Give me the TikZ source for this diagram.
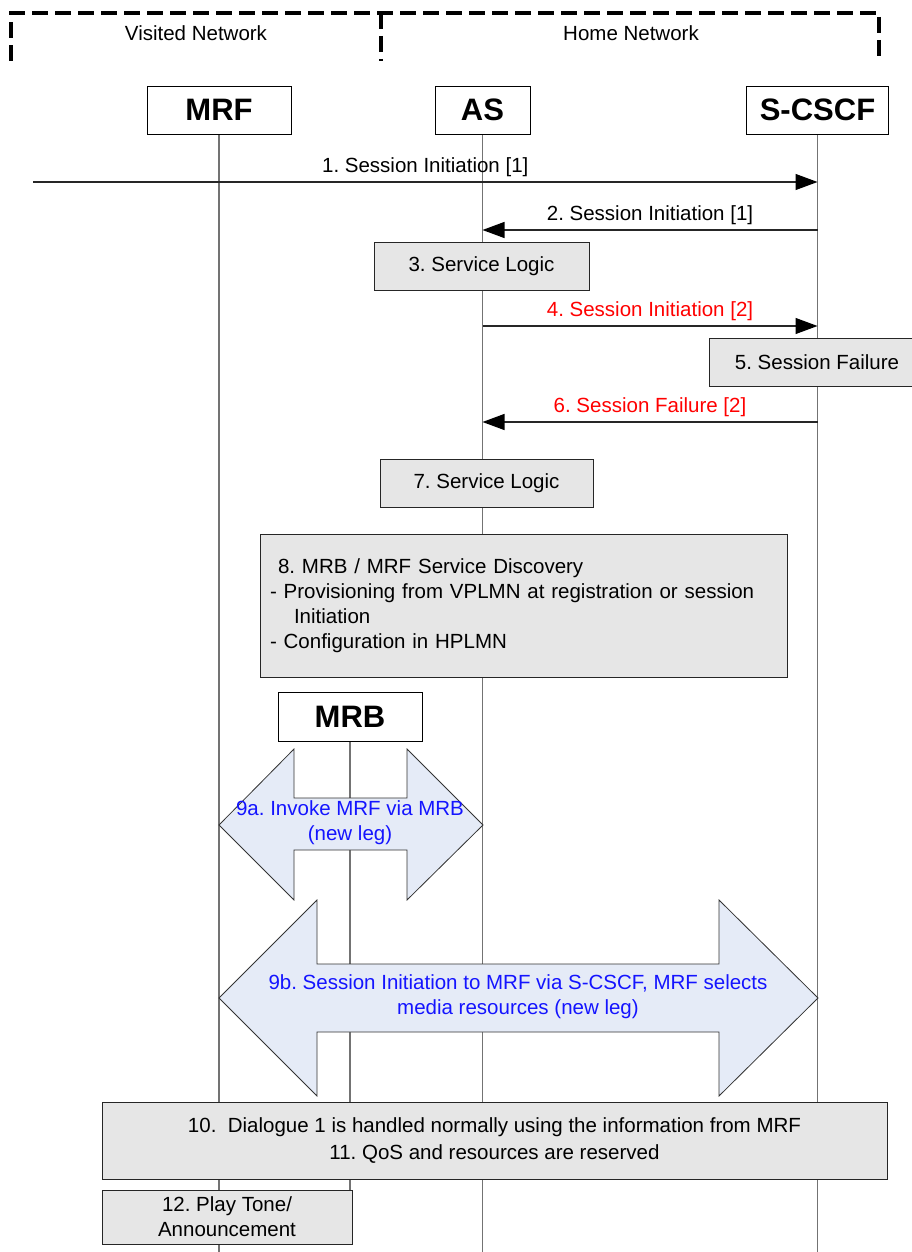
\documentclass[tikz,border=0pt]{standalone}
\usepackage{fontspec}
\setmainfont{Liberation Sans}
\usetikzlibrary{arrows.meta}
\pgfdeclarelayer{background}
\pgfsetlayers{background,main}
\definecolor{boxgray}{RGB}{230,230,230}
\definecolor{flowfill}{RGB}{229,235,247}
\definecolor{lifegray}{RGB}{115,115,115}
\definecolor{flowblue}{RGB}{20,20,255}
\definecolor{failred}{RGB}{255,0,0}
\frenchspacing

\begin{document}
\begin{tikzpicture}[x=1pt,y=-1pt,
  every node/.style={font=\fontsize{20.5}{25}\selectfont},
  entity/.style={draw=black, line width=0.9pt, fill=white, inner sep=0pt,
    font=\fontsize{31}{36}\selectfont\bfseries},
  lifeline/.style={draw=lifegray, line width=1.1pt},
  stepbox/.style={draw=black!85, line width=0.9pt, fill=boxgray, inner sep=0pt},
  msg/.style={draw=black!85, line width=1.2pt,
    -{Triangle[length=22pt,width=16pt,color=black]}},
  msglabel/.style={inner sep=0pt, midway, yshift=15pt},
  region/.style={line width=3.5pt, dash pattern=on 16pt off 7pt},
  bigarrow/.style={draw=black!80, line width=0.8pt, fill=flowfill},
  flowtext/.style={text=flowblue, align=center, inner sep=0pt},
]
\useasboundingbox (0,0) rectangle (912,1252);
\clip (0,0) rectangle (912,1252);

% network domains
\draw[region] (11,61) -- (11,13) -- (879,13) -- (879,61);
\draw[region] (381,13) -- (381,61);
\node (visited) at (196,33) {Visited Network};
\node (home) at (631,33) {Home Network};

% entities
\node[entity, minimum width=144pt, minimum height=48pt] (mrf) at (219,110) {MRF};
\node[entity, minimum width=95pt, minimum height=48pt] (as) at (482.5,110) {AS};
\node[entity, minimum width=142pt, minimum height=48pt] (scscf) at (817.5,110) {S-CSCF};

% step boxes
\node[stepbox, minimum width=215pt, minimum height=48pt] (logic3) at (481.5,266) {3. Service Logic};
\node[stepbox, minimum width=216pt, minimum height=48pt] (fail5) at (817,362) {5. Session Failure};
\node[stepbox, minimum width=213pt, minimum height=48pt] (logic7) at (486.5,483) {7. Service Logic};
\node[stepbox, text width=507pt, inner xsep=10pt, minimum height=143pt, align=left] (disc8) at (523.5,605.5)
  {\hspace*{8pt}8. MRB / MRF Service Discovery\\
   - Provisioning from VPLMN at registration or session\\
   \hspace*{24pt}Initiation\\
   - Configuration in HPLMN};
\node[entity, minimum width=144pt, minimum height=49pt] (mrb) at (350,716.5) {MRB};
\node[stepbox, minimum width=785pt, minimum height=77pt, align=center,
  font=\fontsize{20.5}{27}\selectfont] (dlg10) at (494.5,1140.5)
  {10.\ \ Dialogue 1 is handled normally using the information from MRF\\
   11. QoS and resources are reserved};
\node[stepbox, minimum width=250pt, minimum height=54pt, align=center] (tone12) at (227,1217)
  {12. Play Tone/\\Announcement};

% lifelines
\begin{pgfonlayer}{background}
  \draw[lifeline] (mrf.south) -- (mrf.south |- 0,1252);
  \draw[lifeline] (as.south) -- (as.south |- 0,1252);
  \draw[lifeline] (scscf.south) -- (scscf.south |- 0,1252);
  \draw[lifeline] (mrb.south) -- (mrb.south |- tone12.north);
\end{pgfonlayer}

% messages
\coordinate (in1) at (33,182);
\draw[msg] (in1) -- (scscf.south |- in1)
  node[msglabel] {1. Session Initiation [1]};
\coordinate (m2) at (0,230);
\draw[msg] (scscf.south |- m2) -- (as.south |- m2)
  node[msglabel] {2. Session Initiation [1]};
\coordinate (m4) at (0,326);
\draw[msg] (as.south |- m4) -- (scscf.south |- m4)
  node[msglabel, text=failred] {4. Session Initiation [2]};
\coordinate (m6) at (0,422);
\draw[msg] (scscf.south |- m6) -- (as.south |- m6)
  node[msglabel, text=failred] {6. Session Failure [2]};

% 9a: invoke MRF via MRB
\path[bigarrow] (219,825) -- (294,749) -- (294,798) -- (407,798) -- (407,749)
  -- (483,825) -- (407,900) -- (407,850) -- (294,850) -- (294,900) -- cycle;
\node[flowtext] (inv9a) at (350,822.5) {9a. Invoke MRF via MRB\\(new leg)};

% 9b: session initiation to MRF via S-CSCF
\path[bigarrow] (219,998) -- (317,900) -- (317,964) -- (719,964) -- (719,900)
  -- (818,998) -- (719,1096) -- (719,1032) -- (317,1032) -- (317,1096) -- cycle;
\node[flowtext] (sess9b) at (518,997)
  {9b. Session Initiation to MRF via S-CSCF, MRF selects\\media resources (new leg)};

\end{tikzpicture}
\end{document}
